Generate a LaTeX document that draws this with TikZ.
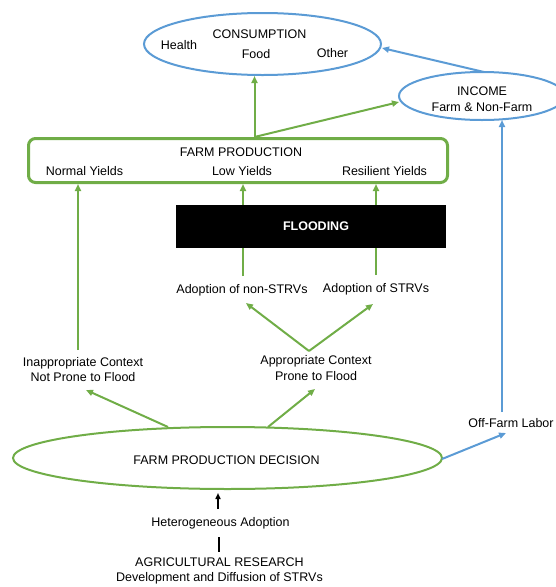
\documentclass[tikz,border=0pt]{standalone}
\usepackage{fontspec}
\setmainfont{Liberation Sans}
\usetikzlibrary{arrows.meta,shapes.geometric}
\definecolor{grn}{RGB}{112,173,71}
\definecolor{blu}{RGB}{91,155,213}
\begin{document}
\begin{tikzpicture}[x=1pt,y=-1pt,
  txt/.style={font=\fontsize{12.5}{15.5}\selectfont, inner sep=0pt, align=center},
  garr/.style={draw=grn, line width=2pt, -{Triangle[length=7pt,width=6pt]}},
  barr/.style={draw=blu, line width=2pt, -{Triangle[length=7pt,width=6pt]}},
  gell/.style={draw=grn, line width=2pt, ellipse, inner sep=0pt},
  bell/.style={draw=blu, line width=2pt, ellipse, inner sep=0pt}]
\useasboundingbox (0,0) rectangle (556,587);
\begin{scope}
\clip (0,0) rectangle (556,587);
% consumption
\node[bell, minimum width=237pt, minimum height=62pt] (cons) at (262.5,44) {};
\node[txt] (consT) at (259.5,34) {CONSUMPTION};
\node[txt] (health) at (179,45) {Health};
\node[txt] (food) at (256,54) {Food};
\node[txt] (other) at (332.5,53) {Other};
% income
\node[bell, minimum width=166pt, minimum height=48pt] (inc) at (482,96) {};
\end{scope}
\node[txt] (incT) at (482,99) {INCOME\\Farm \& Non-Farm};
% farm production box
\node[draw=grn, line width=3pt, rounded corners=7pt, minimum width=419pt, minimum height=44pt, inner sep=0pt] (fp) at (238,160.5) {};
\node[txt] (fpT) at (241,152) {FARM PRODUCTION};
\node[txt] (ny) at (84.5,171) {Normal Yields};
\node[txt] (ly) at (242,171) {Low Yields};
\node[txt] (ry) at (384.5,171) {Resilient Yields};
% adoption nodes
\node[txt] (anon) at (242,290) {Adoption of non-STRVs};
\node[txt] (astr) at (376,289) {Adoption of STRVs};
\node[txt] (appr) at (316,368) {Appropriate Context\\Prone to Flood};
\node[txt] (inap) at (83,369.5) {Inappropriate Context\\Not Prone to Flood};
% arrows into farm production (behind flooding)
\coordinate (lyb) at (243,184);
\coordinate (ryb) at (376,184);
\coordinate (nyb) at (78,184);
\draw[garr] (243,276) -- (lyb);
\draw[garr] (376,275) -- (ryb);
\draw[garr] (78,350) -- (nyb);
% flooding
\node[fill=black, minimum width=270pt, minimum height=43pt, inner sep=0pt] (fl) at (311,226.5) {};
\node[txt, text=white, font=\fontsize{12.5}{15}\selectfont\bfseries] (flT) at (316,226.5) {FLOODING};
% decision
\node[gell, minimum width=429pt, minimum height=62pt] (dec) at (227.5,458) {};
\node[txt] (decT) at (226.5,460) {FARM PRODUCTION DECISION};
% off-farm labor
\node[txt] (off) at (511,423) {Off-Farm Labor};
% bottom
\node[txt] (het) at (220.5,523) {Heterogeneous Adoption};
\node[txt] (agr) at (219.5,571) {AGRICULTURAL RESEARCH\\Development and Diffusion of STRVs};
% top arrows
\coordinate (fptop) at (254.5,137);
\draw[garr] (fptop) -- (254.5,76);
\draw[garr] (fptop) -- (399,102);
\draw[barr] (484,72) -- (382,48);
% context arrows
\coordinate (apTop) at (309,351);
\draw[garr] (apTop) -- (246,303);
\draw[garr] (apTop) -- (373,304);
\draw[garr] (168,427) -- (86,390);
\draw[garr] (268,427) -- (315,389);
% off-farm arrows
\draw[barr] (442,459) -- (506,433);
\draw[barr] (502,412) -- (502,120);
% black arrows
\draw[line width=1.5pt, -{Triangle[length=6pt,width=5pt]}] (218,509) -- (218,493);
\draw[line width=1.5pt] (219,537) -- (219,552);
\end{tikzpicture}
\end{document}
